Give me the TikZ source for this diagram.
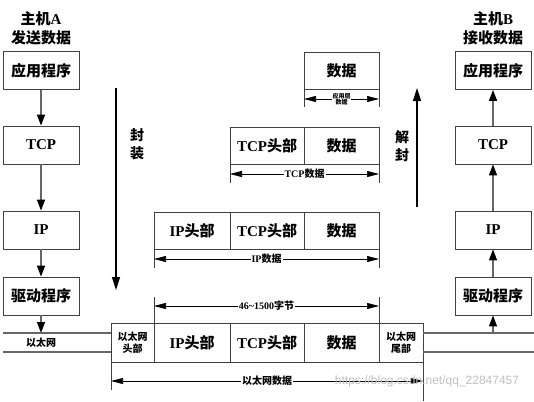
\documentclass[tikz,border=0pt]{standalone}
\usepackage{fontspec}
\setmainfont{Liberation Serif}
\newfontfamily\cjk{Noto Sans CJK SC}
\newfontfamily\wmfont{Liberation Sans}
\usetikzlibrary{arrows.meta}
\usetikzlibrary{positioning}
\newcommand{\zh}[1]{{\cjk #1}}

\begin{document}
\begin{tikzpicture}[x=1pt,y=-1pt,
    layerbox/.style={draw=black!75,line width=0.8pt,minimum width=76pt,minimum height=38pt,
        inner sep=0pt,font=\fontsize{15}{18}\selectfont\bfseries},
    cell/.style={draw=black!75,line width=0.8pt,minimum height=37pt,inner sep=0pt,outer sep=0pt,
        font=\fontsize{15}{18}\selectfont\bfseries},
    colarrow/.style={draw=black!60,line width=1.4pt,-{Triangle[length=11pt,width=8pt,black]}},
    dimarrow/.style={line width=0.7pt,{Triangle[length=12pt,width=6pt]}-{Triangle[length=12pt,width=6pt]}},
    dimlabel/.style={fill=white,inner sep=1pt,font=\fontsize{10}{11}\selectfont\bfseries},
    tick/.style={draw=black!75,line width=0.8pt}]
    \useasboundingbox (0,0) rectangle (534,401);

    % host A
    \node[align=center,font=\fontsize{15}{19}\selectfont\bfseries] (hostA) at (41,28) {\zh{主机}A\\\zh{发送数据}};
    \node[layerbox] (appA) at (41,70.5) {\zh{应用程序}};
    \node[layerbox] (tcpA) at (41,145) {TCP};
    \node[layerbox] (ipA) at (41,230) {IP};
    \node[layerbox] (drvA) at (41,296) {\zh{驱动程序}};
    \coordinate (ethA) at (41,333);
    \draw[colarrow] (appA) -- (tcpA);
    \draw[colarrow] (tcpA) -- (ipA);
    \draw[colarrow] (ipA) -- (drvA);
    \draw[colarrow] (drvA) -- (ethA);

    % host B
    \node[align=center,font=\fontsize{15}{19}\selectfont\bfseries] (hostB) at (493,28) {\zh{主机}B\\\zh{接收数据}};
    \node[layerbox] (appB) at (493,70.5) {\zh{应用程序}};
    \node[layerbox] (tcpB) at (493,145) {TCP};
    \node[layerbox] (ipB) at (493,230) {IP};
    \node[layerbox] (drvB) at (493,296) {\zh{驱动程序}};
    \coordinate (ethB) at (493,333);
    \draw[colarrow] (ethB) -- (drvB);
    \draw[colarrow] (drvB) -- (ipB);
    \draw[colarrow] (ipB) -- (tcpB);
    \draw[colarrow] (tcpB) -- (appB);

    % application data
    \node[cell,minimum width=75pt] (datApp) at (341.5,70.5) {\zh{数据}};

    % TCP segment
    \node[cell,minimum width=74pt] (tcpTCP) at (267,145.5) {TCP\zh{头部}};
    \node[cell,minimum width=75pt,right=0pt of tcpTCP] (datTCP) {\zh{数据}};

    % IP packet
    \node[cell,minimum width=76pt] (ipIP) at (192,230.5) {IP\zh{头部}};
    \node[cell,minimum width=74pt,right=0pt of ipIP] (tcpIP) {TCP\zh{头部}};
    \node[cell,minimum width=75pt,right=0pt of tcpIP] (datIP) {\zh{数据}};

    % ethernet frame
    \node[cell,minimum width=43pt,minimum height=39pt,align=center,
        font=\fontsize{10}{12}\selectfont\bfseries] (ethH) at (132.5,342.5) {\zh{以太网}\\\zh{头部}};
    \node[cell,minimum width=76pt,minimum height=39pt,right=0pt of ethH] (ipEth) {IP\zh{头部}};
    \node[cell,minimum width=74pt,minimum height=39pt,right=0pt of ipEth] (tcpEth) {TCP\zh{头部}};
    \node[cell,minimum width=75pt,minimum height=39pt,right=0pt of tcpEth] (datEth) {\zh{数据}};
    \node[cell,minimum width=44pt,minimum height=39pt,align=center,
        font=\fontsize{10}{12}\selectfont\bfseries,right=0pt of datEth] (ethT) {\zh{以太网}\\\zh{尾部}};

    % ethernet wire
    \draw[black!60,line width=1.4pt] (3,333) -- (ethH.west |- 0,333);
    \draw[black!60,line width=1.4pt] (3,352) -- (ethH.west |- 0,352);
    \draw[black!60,line width=1.4pt] (ethT.east |- 0,333) -- (534,333);
    \draw[black!60,line width=1.4pt] (ethT.east |- 0,352) -- (534,352);
    \node[font=\fontsize{10}{11}\selectfont\bfseries] (ethLbl) at (41,343) {\zh{以太网}};

    % encapsulation arrows
    \draw[line width=1.5pt,-{Triangle[length=13pt,width=8pt]}] (116,88) coordinate (encTop) -- (116,290) coordinate (encBot);
    \node[align=center,font=\fontsize{14}{18}\selectfont\bfseries] (encLbl) at (137,144) {\zh{封}\\\zh{装}};
    \draw[line width=1.5pt,-{Triangle[length=13pt,width=8pt]}] (417,207) coordinate (decBot) -- (417,88) coordinate (decTop);
    \node[align=center,font=\fontsize{14}{18}\selectfont\bfseries] (decLbl) at (402,146) {\zh{解}\\\zh{封}};

    % dimension lines
    \draw[tick] (datApp.south west) -- ++(0,18);
    \draw[tick] (datApp.south east) -- ++(0,18);
    \draw[dimarrow] ([yshift=-10pt]datApp.south west) -- ([yshift=-10pt]datApp.south east)
        node[midway,fill=white,inner sep=0.5pt,align=center,font=\fontsize{6}{6.5}\selectfont\bfseries] {\zh{应用层}\\\zh{数据}};

    \draw[tick] (tcpTCP.south west) -- ++(0,19);
    \draw[tick] (datTCP.south east) -- ++(0,19);
    \draw[dimarrow] ([yshift=-10pt]tcpTCP.south west) -- ([yshift=-10pt]datTCP.south east)
        node[midway,dimlabel] {TCP\zh{数据}};

    \draw[tick] (ipIP.south west) -- ++(0,19);
    \draw[tick] (datIP.south east) -- ++(0,19);
    \draw[dimarrow] ([yshift=-10pt]ipIP.south west) -- ([yshift=-10pt]datIP.south east)
        node[midway,dimlabel] {IP\zh{数据}};

    \draw[tick] (ipEth.north west) -- ++(0,-26);
    \draw[tick] (datEth.north east) -- ++(0,-26);
    \draw[dimarrow] ([yshift=17pt]ipEth.north west) -- ([yshift=17pt]datEth.north east)
        node[midway,dimlabel] {46\textasciitilde1500\zh{字节}};

    \draw[tick] (ethH.south west) -- ++(0,28);
    \draw[tick] (ethT.south east) -- ++(0,39);
    \draw[dimarrow] ([yshift=-19pt]ethH.south west) -- ([yshift=-19pt]ethT.south east)
        node[midway,dimlabel] {\zh{以太网数据}};

    % watermark
    \node[black!25,font=\wmfont\fontsize{12}{14}\selectfont] (wm) at (427,381) {https://blog.csdn.net/qq\_22847457};
\end{tikzpicture}
\end{document}
